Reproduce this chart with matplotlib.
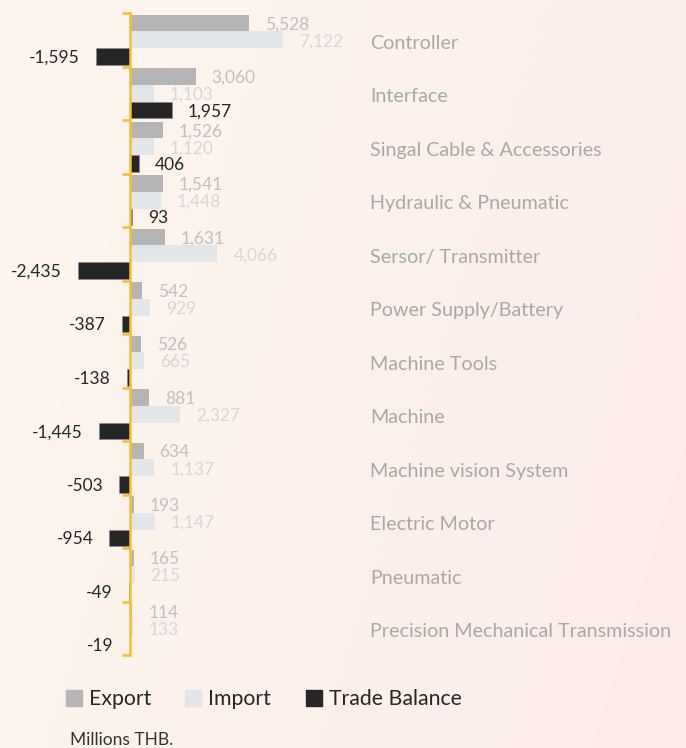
import matplotlib
matplotlib.use("Agg")
import matplotlib.pyplot as plt
import numpy as np
from matplotlib.patches import Rectangle
import matplotlib.transforms as mtransforms

plt.rcParams['font.family'] = ['Lato', 'DejaVu Sans']

categories = ["Controller", "Interface", "Singal Cable & Accessories", "Hydraulic & Pneumatic",
              "Sersor/ Transmitter", "Power Supply/Battery", "Machine Tools", "Machine",
              "Machine vision System", "Electric Motor", "Pneumatic",
              "Precision Mechanical Transmission"]
export_vals = [5528, 3060, 1526, 1541, 1631, 542, 526, 881, 634, 193, 165, 114]
import_vals = [7122, 1103, 1120, 1448, 4066, 929, 665, 2327, 1137, 1147, 215, 133]
balance_vals = [-1595, 1957, 406, 93, -2435, -387, -138, -1445, -503, -954, -49, -19]
series_names = ["Export", "Import", "Trade Balance"]
unit_label = "Millions THB."

W, H = 686, 748
fig = plt.figure(figsize=(W / 100, H / 100), dpi=100)

# background gradient
bg = fig.add_axes([0, 0, 1, 1], zorder=-10)
nx, ny = 200, 200
xs = np.linspace(0, 1, nx)[None, :]
ys = np.linspace(0, 1, ny)[:, None]
c_left = np.array([253, 246, 238]) / 255
c_right = np.array([252, 236, 233]) / 255
t = np.clip(0.75 * xs + 0.25 * ys, 0, 1)
img = c_left[None, None, :] * (1 - t[..., None]) + c_right[None, None, :] * t[..., None]
bg.imshow(img, aspect='auto', extent=[0, 1, 0, 1], origin='upper')
bg.axis('off')

ax_top, ax_bot = 13, 655
ax = fig.add_axes([0, (H - ax_bot) / H, 1, (ax_bot - ax_top) / H])
ax.patch.set_alpha(0)

px_per_unit = 0.0215
x0 = 130
ax.set_xlim(-x0 / px_per_unit, (W - x0) / px_per_unit)
n = len(categories)
ax.set_ylim(n - 0.5, -0.5)

y = np.arange(n)
h = 0.312
c_exp, c_imp, c_bal = "#b5b5b6", "#e3e6e8", "#262626"
ax.barh(y - h, export_vals, height=h, color=c_exp, zorder=2)
ax.barh(y, import_vals, height=h, color=c_imp, zorder=2)
ax.barh(y + h, balance_vals, height=h, color=c_bal, edgecolor="#8a8a8a", linewidth=0.4, zorder=2)

lab_fs = 12.5
off = 11.5  # points

def put_label(val, yy, color):
    dx = off if val >= 0 else -off
    ha = 'left' if val >= 0 else 'right'
    ax.annotate(f"{val:,}", xy=(val, yy), xytext=(dx, -1), textcoords='offset points',
                ha=ha, va='center', fontsize=lab_fs, color=color, zorder=3)

for i in range(n):
    put_label(export_vals[i], y[i] - h, "#c0c0c0")
    put_label(import_vals[i], y[i], "#d4d7da")
    put_label(balance_vals[i], y[i] + h, "#262626")

# category labels
trans = mtransforms.blended_transform_factory(ax.transAxes, ax.transData)
for i, c in enumerate(categories):
    ax.annotate(c, xy=(370 / W, y[i]), xycoords=trans, xytext=(0, -2.5), textcoords='offset points',
                ha='left', va='center', fontsize=14.2, color="#a8a8a8")

# axis styling
for s in ['top', 'right', 'bottom']:
    ax.spines[s].set_visible(False)
ax.spines['left'].set_position(('data', 0))
ax.spines['left'].set_color("#f8bf2c")
ax.spines['left'].set_linewidth(1.8)
ax.set_xticks([])
ax.set_yticks(np.arange(n + 1) - 0.5)
ax.set_yticklabels([])
ax.tick_params(axis='y', direction='out', length=5.5, width=1.8, color="#f8bf2c", pad=0)

# legend
sq = 16
legend_items = [(66, 89, c_exp), (185, 208, c_imp), (306, 329, c_bal)]
for (sx, tx, col), name in zip(legend_items, series_names):
    fig.patches.append(Rectangle((sx / W, (H - 706) / H), sq / W, sq / H,
                                 transform=fig.transFigure, color=col, zorder=5))
    fig.text(tx / W, (H - 699) / H, name, ha='left', va='center', fontsize=15.3,
             color="#262626")

fig.text(70 / W, (H - 740) / H, unit_label, ha='left', va='center', fontsize=12.5,
         color="#333333")

fig.savefig("out.png", dpi=100)
